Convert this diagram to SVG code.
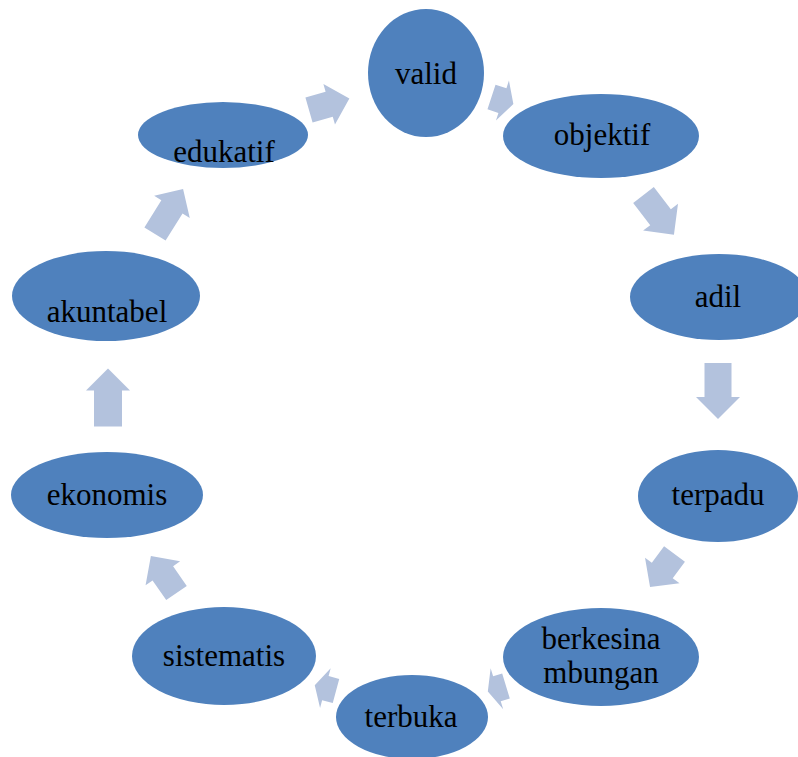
<svg xmlns="http://www.w3.org/2000/svg" width="798" height="757" viewBox="0 0 798 757">
<style>
.n{fill:#4F81BD}
.t{font-family:"Liberation Serif","Times New Roman",serif;font-size:31px;fill:#000;text-anchor:middle}
.a{fill:#B3C2DD}
</style>
<rect width="798" height="757" fill="#fff"/>
<g id="connectors">
<polygon class="a" transform="translate(309,110) rotate(-16)" points="0,-13 21,-13 21,-21 42,0 21,21 21,13 0,13"/>
<polygon class="a" transform="translate(491.5,97) rotate(18)" points="0,-13 11.5,-13 11.5,-21 23,0 11.5,21 11.5,13 0,13"/>
<polygon class="a" transform="translate(643.5,195) rotate(52.5)" points="0,-13 28,-13 28,-22 50,0 28,22 28,13 0,13"/>
<polygon class="a" transform="translate(718,363) rotate(90)" points="0,-13.5 34,-13.5 34,-22 56,0 34,22 34,13.5 0,13.5"/>
<polygon class="a" transform="translate(674.5,554) rotate(126.6)" points="0,-13 20.5,-13 20.5,-21.5 41,0 20.5,21.5 20.5,13 0,13"/>
<polygon class="a" transform="translate(506,686) rotate(163)" points="0,-13 9.5,-13 9.5,-21.5 19,0 9.5,21.5 9.5,13 0,13"/>
<polygon class="a" transform="translate(336,691) rotate(195)" points="0,-12.5 11,-12.5 11,-20.5 22,0 11,20.5 11,12.5 0,12.5"/>
<polygon class="a" transform="translate(176.5,593) rotate(235.3)" points="0,-12.5 24,-12.5 24,-21 45,0 24,21 24,12.5 0,12.5"/>
<polygon class="a" transform="translate(108,426.5) rotate(-90)" points="0,-14 36,-14 36,-22 58,0 36,22 36,14 0,14"/>
<polygon class="a" transform="translate(155,234) rotate(-58)" points="0,-12.5 32,-12.5 32,-21 53,0 32,21 32,12.5 0,12.5"/>
</g>
<g id="valid"><ellipse class="n" cx="426" cy="73" rx="58" ry="64"/><text class="t" x="426" y="84">valid</text></g>
<g id="objektif"><ellipse class="n" cx="601" cy="136" rx="98" ry="42"/><text class="t" x="602" y="145">objektif</text></g>
<g id="adil"><ellipse class="n" cx="719" cy="297" rx="89" ry="43"/><text class="t" x="718" y="307">adil</text></g>
<g id="terpadu"><ellipse class="n" cx="718" cy="496" rx="80" ry="46"/><text class="t" x="718" y="505">terpadu</text></g>
<g id="berkesinambungan"><ellipse class="n" cx="601" cy="657" rx="98" ry="49"/><text class="t" x="601" y="649">berkesina</text><text class="t" x="601" y="683">mbungan</text></g>
<g id="terbuka"><ellipse class="n" cx="412" cy="717" rx="76" ry="42"/><text class="t" x="411" y="727">terbuka</text></g>
<g id="sistematis"><ellipse class="n" cx="224" cy="656" rx="92" ry="49"/><text class="t" x="224" y="666">sistematis</text></g>
<g id="ekonomis"><ellipse class="n" cx="107" cy="495" rx="96" ry="43"/><text class="t" x="107" y="505">ekonomis</text></g>
<g id="akuntabel"><ellipse class="n" cx="106" cy="296" rx="94" ry="45"/><text class="t" x="107" y="322">akuntabel</text></g>
<g id="edukatif"><ellipse class="n" cx="223" cy="135" rx="85" ry="33"/><text class="t" x="224" y="162">edukatif</text></g>
</svg>
